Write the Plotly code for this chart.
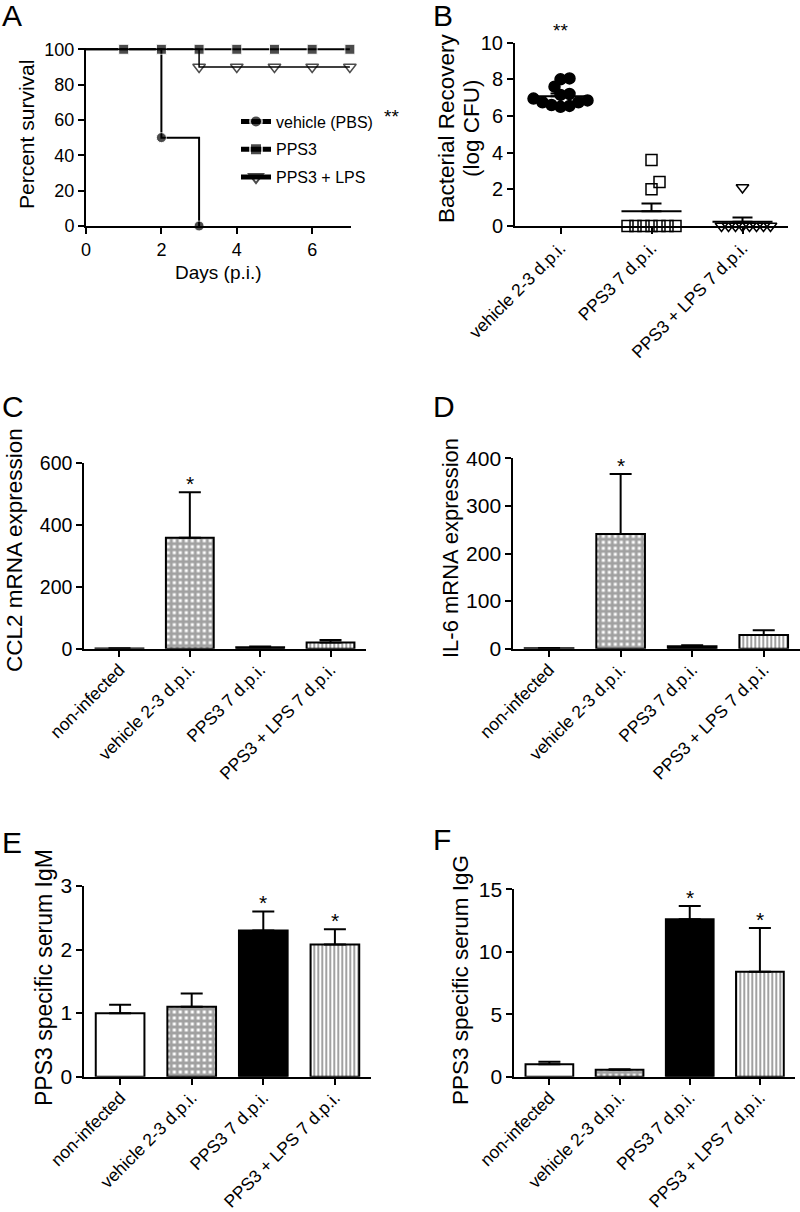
import plotly.graph_objects as go

FONT = "Liberation Sans, Arial, sans-serif"

# ---------------- Panel A: survival ----------------
days_pbs = [0, 2, 3]
surv_pbs = [100, 50, 0]
days_pps3 = [0, 1, 2, 3, 4, 5, 6, 7]
surv_pps3 = [100, 100, 100, 100, 100, 100, 100, 100]
days_lps = [0, 3, 4, 5, 6, 7]
surv_lps = [100, 90, 90, 90, 90, 90]
legend_names = ["vehicle (PBS)", "PPS3", "PPS3 + LPS"]

# ---------------- Panel B: bacterial recovery ----------------
b_groups = ["vehicle 2-3 d.p.i.", "PPS3 7 d.p.i.", "PPS3 + LPS 7 d.p.i."]
b_vehicle = [8.0, 8.05, 7.6, 7.2, 7.15, 6.95, 6.85, 6.75, 6.6, 6.55, 6.5, 6.75]
b_pps3 = [3.6, 2.4, 2.0, 0, 0, 0, 0, 0, 0, 0]
b_lps = [2.1, 0, 0, 0, 0, 0, 0, 0, 0]

# ---------------- Bar panels ----------------
bar_groups = ["non-infected", "vehicle 2-3 d.p.i.", "PPS3 7 d.p.i.", "PPS3 + LPS 7 d.p.i."]
ccl2_mean = [1, 358, 5, 20]
ccl2_sem = [0.5, 147, 2, 8]
ccl2_star = ["", "*", "", ""]
il6_mean = [1, 241, 5, 29]
il6_sem = [0.5, 126, 2, 10]
il6_star = ["", "*", "", ""]
igm_mean = [1.0, 1.1, 2.3, 2.08]
igm_sem = [0.13, 0.21, 0.30, 0.24]
igm_star = ["", "", "*", "*"]
igg_mean = [1.0, 0.55, 12.6, 8.4]
igg_sem = [0.2, 0.05, 1.06, 3.5]
igg_star = ["", "", "*", "*"]

W, H = 800, 1212


def px_dom(a, b):
    return [a / W, b / W]


def py_dom(top, bottom):
    return [1 - bottom / H, 1 - top / H]


fig = go.Figure()

# ---- Panel A traces
msz = 10
fig.add_trace(go.Scatter(
    x=days_pbs, y=surv_pbs, mode="lines+markers", line_shape="hv", name=legend_names[0],
    line=dict(color="black", width=2),
    marker=dict(symbol="circle", color="black", size=[0] + [msz] * (len(days_pbs) - 1)),
    cliponaxis=False, xaxis="x", yaxis="y", legendgroup="a"))
fig.add_trace(go.Scatter(
    x=days_pps3, y=surv_pps3, mode="lines+markers", line_shape="hv", name=legend_names[1],
    line=dict(color="black", width=2),
    marker=dict(symbol="square", color="black", size=[0] + [msz] * (len(days_pps3) - 1)),
    cliponaxis=False, xaxis="x", yaxis="y", legendgroup="b"))
fig.add_trace(go.Scatter(
    x=days_lps, y=surv_lps, mode="lines+markers", line_shape="hv", name=legend_names[2],
    line=dict(color="black", width=1.5),
    marker=dict(symbol="triangle-down-open", color="black", size=[0] + [msz + 1] * (len(days_lps) - 1),
                line=dict(width=1.5, color="black")),
    cliponaxis=False, xaxis="x", yaxis="y", legendgroup="c"))

# ---- Panel B: beeswarm
XS = 273 / 3.0   # px per category unit
YS = 183.3 / 10  # px per log unit


def swarm(vals, d_px, step):
    placed = []
    res = [0.0] * len(vals)
    order = sorted(range(len(vals)), key=lambda i: vals[i])
    cands = [0.0]
    for j in range(1, 60):
        cands += [j * step, -j * step]
    for i in order:
        yv = vals[i] * YS
        for c in cands:
            if all((c - p) ** 2 + (yv - q) ** 2 >= d_px ** 2 - 1e-6 for p, q in placed):
                break
        placed.append((c, yv))
        res[i] = c / XS
    return res


b_sets = [b_vehicle, b_pps3, b_lps]
b_syms = ["circle", "square-open", "triangle-down-open"]
b_sw = [(9.0, 3.0), (8.0, 8.0), (7.0, 7.0)]
for gi, (vals, sym) in enumerate(zip(b_sets, b_syms)):
    offs = swarm(vals, *b_sw[gi])
    fig.add_trace(go.Scatter(
        x=[gi + o for o in offs], y=vals, mode="markers",
        marker=dict(symbol=sym, size=11, color="black", line=dict(width=1.5, color="black")),
        cliponaxis=False, showlegend=False, xaxis="x2", yaxis="y2"))
    n = len(vals)
    m = sum(vals) / n
    sd = (sum((v - m) ** 2 for v in vals) / (n - 1)) ** 0.5
    sem = sd / n ** 0.5
    fig.add_trace(go.Scatter(
        x=[gi - 0.33, gi + 0.33], y=[m, m], mode="lines",
        line=dict(color="black", width=2), cliponaxis=False, showlegend=False,
        xaxis="x2", yaxis="y2"))
    fig.add_trace(go.Scatter(
        x=[gi], y=[m], mode="markers", marker=dict(size=1, color="black"),
        error_y=dict(type="data", symmetric=False, array=[sem], arrayminus=[0],
                     color="black", thickness=2, width=10),
        cliponaxis=False, showlegend=False, xaxis="x2", yaxis="y2"))

# ---- Bar panels
bar_colors = ["white", "white", "black", "white"]
bar_patterns = ["", "+", "", "|"]
bar_panels = [
    (ccl2_mean, ccl2_sem, ccl2_star, "x3", "y3"),
    (il6_mean, il6_sem, il6_star, "x4", "y4"),
    (igm_mean, igm_sem, igm_star, "x5", "y5"),
    (igg_mean, igg_sem, igg_star, "x6", "y6"),
]
annotations = []
for mean, sem, stars, xa, ya in bar_panels:
    fig.add_trace(go.Bar(
        x=bar_groups, y=mean, width=0.68,
        marker=dict(color=bar_colors, line=dict(color="black", width=2),
                    pattern=dict(shape=bar_patterns, fgcolor="black", bgcolor="white",
                                 size=[6, 6, 6, 4], solidity=[0.3, 0.75, 0.3, 0.5])),
        error_y=dict(type="data", symmetric=False, array=sem, arrayminus=[0] * len(sem),
                     color="black", thickness=2, width=11),
        showlegend=False, xaxis=xa, yaxis=ya))
    for g, m, s, st in zip(bar_groups, mean, sem, stars):
        if st:
            annotations.append(dict(x=g, y=m + s, xref=xa, yref=ya, text=st, showarrow=False,
                                    yanchor="middle", yshift=9,
                                    font=dict(size=21, family=FONT, color="black")))

# ---- Axes
ax_common = dict(showline=True, linecolor="black", linewidth=2, ticks="outside",
                 ticklen=6, tickwidth=2, tickcolor="black", showgrid=False, zeroline=False,
                 automargin=False,
                 tickfont=dict(family=FONT, size=17.5, color="black"))


def tf(s):
    return dict(family=FONT, size=s, color="black")


layout_axes = {}
layout_axes["xaxis"] = dict(ax_common, domain=px_dom(86, 351), range=[0, 7.03],
                            tickvals=[0, 2, 4, 6], anchor="y", tickfont=tf(18))
layout_axes["yaxis"] = dict(ax_common, domain=py_dom(47.5, 226), range=[0, 101],
                            tickvals=[0, 20, 40, 60, 80, 100], anchor="x", tickfont=tf(18))
layout_axes["xaxis2"] = dict(ax_common, domain=px_dom(515, 788), range=[-0.5, 2.5],
                             tickvals=[0, 1, 2], ticktext=b_groups, tickangle=-45,
                             ticklabelstandoff=-3, anchor="y2")
layout_axes["yaxis2"] = dict(ax_common, domain=py_dom(42.7, 226), range=[0, 10],
                             tickvals=[0, 2, 4, 6, 8, 10], anchor="x2", tickfont=tf(20))
bar_geo = [
    ("3", (84.3, 365.7), (462.7, 648.7), [0, 600], [0, 200, 400, 600], 19.5),
    ("4", (513.3, 799.5), (458.3, 648.7), [0, 400], [0, 100, 200, 300, 400], 21),
    ("5", (84.3, 370.7), (886, 1076.7), [0, 3], [0, 1, 2, 3], 21),
    ("6", (514.3, 795), (889.3, 1076.7), [0, 15], [0, 5, 10, 15], 21),
]
for k, xd, yd, yr, tv, fs in bar_geo:
    layout_axes["xaxis" + k] = dict(ax_common, domain=px_dom(*xd), range=[-0.5, 3.5],
                                    type="category", tickangle=-45, ticklabelstandoff=-4,
                                    anchor="y" + k)
    layout_axes["yaxis" + k] = dict(ax_common, domain=py_dom(*yd), range=yr,
                                    tickvals=tv, anchor="x" + k, tickfont=tf(fs))


def ann(text, xp, yp, size, angle=0, xanchor="center", yanchor="middle"):
    return dict(text=text, x=xp / W, y=1 - yp / H, xref="paper", yref="paper",
                showarrow=False, textangle=angle, xanchor=xanchor, yanchor=yanchor,
                font=dict(family=FONT, size=size, color="black"))


# panel letters
for letter, xp, yp in [("A", 0, 15), ("B", 431, 15), ("C", 0, 407), ("D", 431, 407),
                       ("E", 0, 842), ("F", 431, 840)]:
    annotations.append(ann(letter, xp, yp, 30, xanchor="left"))

# axis titles
annotations.append(ann("Percent survival", 27, 135, 21, angle=-90))
annotations.append(ann("Days (p.i.)", 218, 272, 19))
annotations.append(ann("Bacterial Recovery", 447, 128, 22.5, angle=-90))
annotations.append(ann("(log CFU)", 472, 128, 22.5, angle=-90))
annotations.append(ann("CCL2 mRNA expression", 14, 550, 22.5, angle=-90))
annotations.append(ann("IL-6 mRNA expression", 450, 548, 22, angle=-90))
annotations.append(ann("PPS3 specific serum IgM", 44, 978, 23, angle=-90))
annotations.append(ann("PPS3 specific serum IgG", 460, 980, 22.5, angle=-90))
# significance marks
annotations.append(ann("**", 391, 116, 19))
annotations.append(ann("**", 560, 30, 19))

fig.update_layout(
    width=W, height=H, margin=dict(l=0, r=0, t=0, b=0, autoexpand=False),
    paper_bgcolor="white", plot_bgcolor="white",
    font=dict(family=FONT, color="black"),
    showlegend=True,
    legend=dict(x=236 / W, y=1 - 104.5 / H, xanchor="left", yanchor="top",
                font=dict(family=FONT, size=16, color="black"),
                bgcolor="rgba(0,0,0,0)", tracegroupgap=4, itemsizing="constant"),
    annotations=annotations,
    bargap=0.3,
    **layout_axes,
)

fig.write_html("out.html", config={"displayModeBar": False},
               post_script="document.body.style.margin='0';document.body.style.overflow='hidden';")
